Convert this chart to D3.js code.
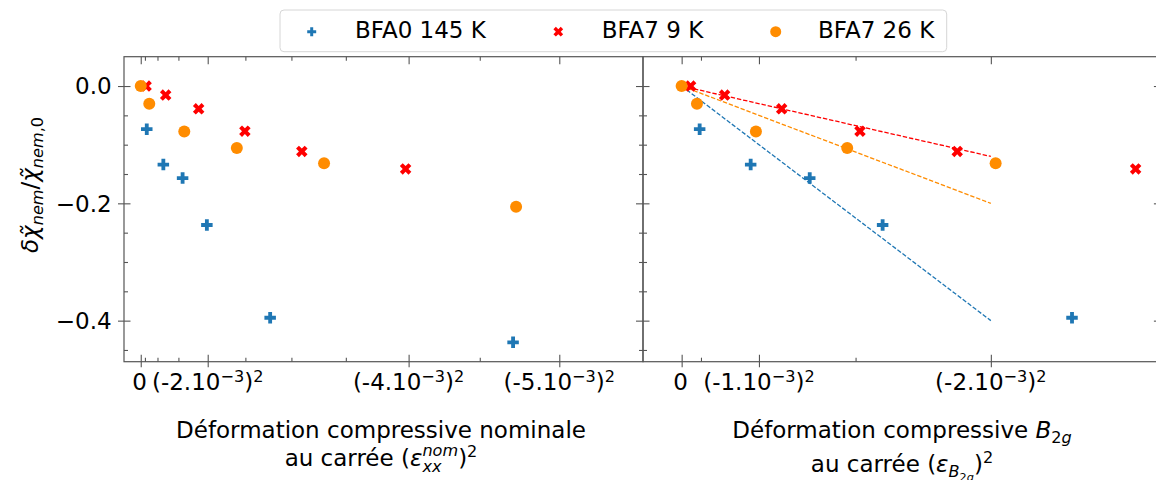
<!DOCTYPE html>
<html><head><meta charset="utf-8">
<script src="https://cdn.jsdelivr.net/npm/d3@7"></script>
<style>
body{margin:0;background:#fff}
svg{display:block}
text{font-family:"DejaVu Sans",sans-serif;white-space:pre}
</style>
</head><body>
<svg id="c" width="1156" height="480"></svg>
<script>
// ---------- data (x values are strain squared, in units of 1e-6) ----------
const seriesNames = ["BFA0 145 K", "BFA7 9 K", "BFA7 26 K"];
const seriesColors = ["#1f77b4", "#ff0000", "#ff8c00"];

const bfa0Nominal = [0.36, 1.35, 2.50, 3.95, 7.73, 22.24];
const bfa0B2g     = [0.233, 0.893, 1.657, 2.60, 5.05];
const bfa0Delta   = [-0.0735, -0.134, -0.157, -0.237, -0.395, -0.437];

const bfa7_9Nominal = [0.32, 1.49, 3.46, 6.22, 9.62, 15.82];
const bfa7_9B2g     = [0.116, 0.556, 1.294, 2.307, 3.565, 5.873];
const bfa7_9Delta   = [0.0, -0.0154, -0.0388, -0.077, -0.1116, -0.1414];

const bfa7_26Nominal = [0.0, 0.51, 2.60, 5.74, 10.95, 22.42];
const bfa7_26B2g     = [0.0, 0.198, 0.961, 2.142, 4.062];
const bfa7_26Delta   = [0.0, -0.0302, -0.0775, -0.1055, -0.1316, -0.206];

const fitSlopes = [-0.1, -0.03, -0.05];
const fitXRange = [0, 4];

const yTicks = [0, -0.2, -0.4];
const yTickLabels = ["0.0", "−0.2", "−0.4"];
const yMinor = [-0.05, -0.1, -0.15, -0.25, -0.3, -0.35, -0.45];

const nomTicks = [0, 4, 16, 25];
const nomTickLabels = ["0", "(-2.10^{−3})^{2}", "(-4.10^{−3})^{2}", "(-5.10^{−3})^{2}"];
const nomMinor = [0.25, 1, 2.25, 6.25, 9, 12.25, 20.25];

const b2gTicks = [0, 1, 4];
const b2gTickLabels = ["0", "(-1.10^{−3})^{2}", "(-2.10^{−3})^{2}"];
const b2gMinor = [0.25, 2.25];

// ---------- setup ----------
const svg = d3.select("#c");
const FS = 23, SFS = 16.1;
const TOP = 56.7, BOT = 361.7;
const y = d3.scaleLinear().domain([-0.47, 0.05]).range([BOT, TOP]);
const xL = d3.scaleLinear().domain([-1, 30]).range([124, 643]);
const xR = d3.scaleLinear().domain([-0.5, 6.2]).range([643, 1160.9]);
const AX = "#555";

const meas = svg.append("text").attr("visibility", "hidden");
function measure(t, fs, it) {
  meas.attr("font-size", fs).attr("font-style", it ? "italic" : "normal").text(t);
  return meas.node().getComputedTextLength();
}
function richText(parent, runs, x, yb, anchor) {
  let cur = 0, prevStart = 0, prevW = 0;
  const items = [];
  runs.forEach(r => {
    const w = measure(r.t, r.fs, r.it);
    let start;
    if (r.stack) { start = prevStart; const m = Math.max(prevW, w); cur = prevStart + m; prevW = m; }
    else { start = cur; cur += w; prevStart = start; prevW = w; }
    items.push({ r, start });
  });
  const x0 = anchor === "middle" ? x - cur / 2 : anchor === "end" ? x - cur : x;
  const t = parent.append("text").attr("fill", "#000");
  items.forEach(({ r, start }) => {
    t.append("tspan").attr("x", x0 + start).attr("y", yb - (r.off || 0))
      .attr("font-size", r.fs).attr("font-style", r.it ? "italic" : "normal").text(r.t);
  });
  return t;
}
function parseMath(s) {
  return s.split(/(\^\{[^}]*\})/).filter(p => p).map(p =>
    p.startsWith("^{") ? { t: p.slice(2, -1), fs: SFS, off: 8 } : { t: p, fs: FS, off: 0 });
}

// marker paths (matplotlib 'P', 'X', 'o')
function polyPath(pts, s) {
  return "M" + pts.map(p => [p[0] * s, p[1] * s].join(",")).join("L") + "Z";
}
const plusPts = [[-1,-3],[-1,-1],[-3,-1],[-3,1],[-1,1],[-1,3],[1,3],[1,1],[3,1],[3,-1],[1,-1],[1,-3]].map(p => [p[0]/6, p[1]/6]);
const xPts = [[-1,-2],[0,-1],[1,-2],[2,-1],[1,0],[2,1],[1,2],[0,1],[-1,2],[-2,1],[-1,0],[-2,-1]].map(p => [p[0]/4, p[1]/4]);
const markerPath = [
  s => polyPath(plusPts, s),
  s => polyPath(xPts, s),
  s => d3.arc()({ innerRadius: 0, outerRadius: s / 2, startAngle: 0, endAngle: 2 * Math.PI })
];
const markerSize = [11.5, 11.5, 12];

// ---------- clip paths ----------
const defs = svg.append("defs");
defs.append("clipPath").attr("id", "clipL").append("rect")
  .attr("x", xL.range()[0]).attr("y", TOP).attr("width", xL.range()[1] - xL.range()[0]).attr("height", BOT - TOP);
defs.append("clipPath").attr("id", "clipR").append("rect")
  .attr("x", xR.range()[0]).attr("y", TOP).attr("width", xR.range()[1] - xR.range()[0]).attr("height", BOT - TOP);

// ---------- axes helpers ----------
function tickAxis(gen, vals, inLen, outLen, tx, ty, vertical) {
  const g = svg.append("g").attr("transform", `translate(${tx},${ty})`)
    .call(gen.tickValues(vals).tickSizeInner(-inLen).tickSizeOuter(0).tickFormat(""));
  g.select(".domain").remove();
  g.selectAll(".tick line").attr("stroke", AX).attr("stroke-width", 1.1);
  if (outLen) {
    if (vertical) g.selectAll(".tick line").attr("x1", -outLen);
    else g.selectAll(".tick line").attr("y1", outLen);
  }
  return g;
}

function panel(x, xTicks, xLabels, xMinor, leftLabels) {
  const [x0, x1] = x.range();
  tickAxis(d3.axisBottom(x), xTicks, 7, 5.5, 0, BOT, false);
  tickAxis(d3.axisBottom(x), xMinor, 4, 0, 0, BOT, false);
  tickAxis(d3.axisTop(x), xTicks, 7.5, 0, 0, TOP, false);
  tickAxis(d3.axisTop(x), xMinor, 4, 0, 0, TOP, false);
  tickAxis(d3.axisLeft(y), yTicks, 6.5, leftLabels ? 6 : 0, x0, 0, true);
  tickAxis(d3.axisLeft(y), yMinor, 4, 0, x0, 0, true);
  tickAxis(d3.axisRight(y), yTicks, 7, 0, x1, 0, true);
  tickAxis(d3.axisRight(y), yMinor, 4, 0, x1, 0, true);
  svg.append("rect").attr("x", x0).attr("y", TOP).attr("width", x1 - x0).attr("height", BOT - TOP)
    .attr("fill", "none").attr("stroke", AX).attr("stroke-width", 1.2);
  xTicks.forEach((v, i) => richText(svg, parseMath(xLabels[i]), x(v) + (i === 0 ? -1.2 : 0), 390, "middle"));
  if (leftLabels) {
    yTicks.forEach((v, i) => svg.append("text").attr("x", x0 - 12.3).attr("y", y(v) + 8.3)
      .attr("text-anchor", "end").attr("font-size", FS).attr("fill", "#000").text(yTickLabels[i]));
  }
}

panel(xL, nomTicks, nomTickLabels, nomMinor, true);
panel(xR, b2gTicks, b2gTickLabels, b2gMinor, false);

// ---------- data marks ----------
const deltas = [bfa0Delta, bfa7_9Delta, bfa7_26Delta];
const nominal = [bfa0Nominal, bfa7_9Nominal, bfa7_26Nominal];
const b2g = [bfa0B2g, bfa7_9B2g, bfa7_26B2g];

const gL = svg.append("g").attr("clip-path", "url(#clipL)");
const gR = svg.append("g").attr("clip-path", "url(#clipR)");

fitSlopes.forEach((s, i) => {
  const line = d3.line().x(d => xR(d)).y(d => y(s * d));
  gR.append("path").attr("d", line(fitXRange)).attr("fill", "none")
    .attr("stroke", seriesColors[i]).attr("stroke-width", 1.3).attr("stroke-dasharray", "4.4,1.9");
});

function drawPoints(g, xs, xScale) {
  xs.forEach((arr, i) => {
    const pts = arr.map((v, j) => [v, deltas[i][j]]);
    g.selectAll(null).data(pts).enter().append("path")
      .attr("d", markerPath[i](markerSize[i]))
      .attr("transform", d => `translate(${xScale(d[0])},${y(d[1])})`)
      .attr("fill", seriesColors[i]);
  });
}
drawPoints(gL, nominal, xL);
drawPoints(gR, b2g, xR);

// ---------- axis titles ----------
richText(svg, [{ t: "Déformation compressive nominale", fs: FS }], 381, 438, "middle");
richText(svg, [
  { t: "au carrée (", fs: FS }, { t: "ε", fs: FS, it: 1 },
  { t: "nom", fs: SFS, it: 1, off: 10 }, { t: "xx", fs: SFS, it: 1, off: -6, stack: 1 },
  { t: ")", fs: FS }, { t: "2", fs: SFS, off: 9 }
], 381, 466, "middle");

richText(svg, [
  { t: "Déformation compressive ", fs: FS }, { t: "B", fs: FS, it: 1 },
  { t: "2", fs: SFS, off: -5 }, { t: "g", fs: SFS, it: 1, off: -5 }
], 902, 438, "middle");
richText(svg, [
  { t: "au carrée (", fs: FS }, { t: "ε", fs: FS, it: 1 },
  { t: "B", fs: SFS, it: 1, off: -5 }, { t: "2", fs: 11.3, off: -8.5 }, { t: "g", fs: 11.3, it: 1, off: -8.5 },
  { t: ")", fs: FS }, { t: "2", fs: SFS, off: 9 }
], 902, 472, "middle");

// y label
const yl = svg.append("g").attr("transform", "translate(38,185) rotate(-90)");
richText(yl, [
  { t: "δ", fs: FS, it: 1 }, { t: "χ̃", fs: FS, it: 1 },
  { t: "nem", fs: SFS, it: 1, off: -5 },
  { t: "/", fs: FS }, { t: "χ̃", fs: FS, it: 1 },
  { t: "nem", fs: SFS, it: 1, off: -5 }, { t: ",0", fs: SFS, off: -5 }
], 0, 0, "middle");

// ---------- legend ----------
const lgX = 280, lgY = 10, lgW = 666.7, lgH = 41.7;
svg.append("rect").attr("x", lgX).attr("y", lgY).attr("width", lgW).attr("height", lgH)
  .attr("rx", 4).attr("fill", "#fff").attr("fill-opacity", 0.85).attr("stroke", "#d6d6d6").attr("stroke-width", 1);
const legMarkX = [311.7, 558.3, 775.7];
const legTextX = [355, 601.7, 818];
const legMarkScale = [0.78, 0.85, 0.92];
seriesNames.forEach((n, i) => {
  svg.append("path").attr("d", markerPath[i](markerSize[i] * legMarkScale[i]))
    .attr("transform", `translate(${legMarkX[i]},31.7)`).attr("fill", seriesColors[i]);
  svg.append("text").attr("x", legTextX[i]).attr("y", 37.8).attr("font-size", FS).attr("fill", "#000").text(n);
});
</script>
</body></html>
